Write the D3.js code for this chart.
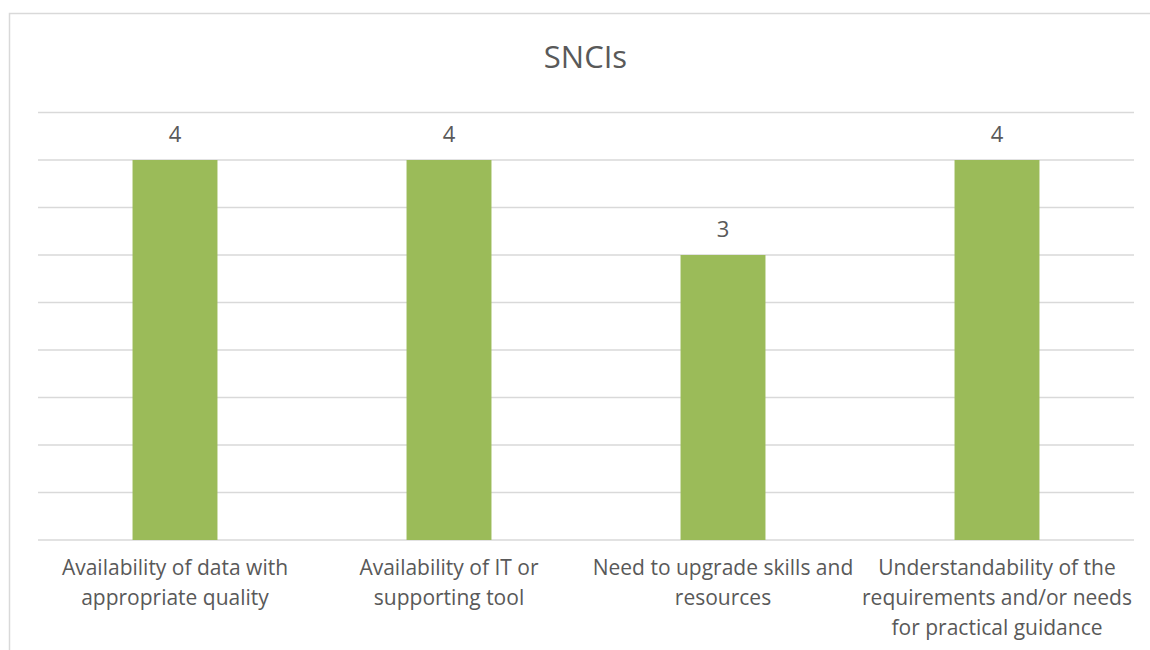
<!DOCTYPE html>
<html>
<head>
<meta charset="utf-8">
<script src="https://cdn.jsdelivr.net/npm/d3@7"></script>
<style>
  html, body { margin: 0; padding: 0; background: #fff; }
  svg { display: block; }
  text { font-family: "Open Sans", "Liberation Sans", sans-serif; fill: #595959; }
</style>
</head>
<body>
<svg id="chart" width="1150" height="650"></svg>
<script>
// Chart data
const title = "SNCIs";
const categories = [
  ["Availability of data with", "appropriate quality"],
  ["Availability of IT or", "supporting tool"],
  ["Need to upgrade skills and", "resources"],
  ["Understandability of the", "requirements and/or needs", "for practical guidance"]
];
const values = [4, 4, 3, 4];
const gridTicks = [0, 0.5, 1, 1.5, 2, 2.5, 3, 3.5, 4, 4.5];

const svg = d3.select("#chart");
const W = 1150, H = 650;
const plot = { left: 38, right: 1134, top: 112.5, bottom: 540 };

// outer chart frame (continues past the right/bottom edges)
svg.append("rect")
  .attr("x", 9.5).attr("y", 13.5)
  .attr("width", W + 20).attr("height", H + 20)
  .attr("fill", "none").attr("stroke", "#d9d9d9").attr("stroke-width", 1.5);

const x = d3.scaleBand()
  .domain(d3.range(categories.length))
  .range([plot.left, plot.right])
  .padding(0);

const y = d3.scaleLinear()
  .domain([0, 4.5])
  .range([plot.bottom, plot.top]);

// horizontal gridlines
svg.append("g")
  .selectAll("line")
  .data(gridTicks)
  .join("line")
  .attr("x1", plot.left).attr("x2", plot.right)
  .attr("y1", d => y(d)).attr("y2", d => y(d))
  .attr("stroke", "#d9d9d9").attr("stroke-width", 1.3);

// bars
const barW = x.bandwidth() * 0.31;
svg.append("g")
  .selectAll("rect")
  .data(values)
  .join("rect")
  .attr("x", (d, i) => x(i) + x.bandwidth() / 2 - barW / 2)
  .attr("y", d => y(d))
  .attr("width", barW)
  .attr("height", d => y(0) - y(d))
  .attr("fill", "#9bbb59");

// value labels
svg.append("g")
  .selectAll("text")
  .data(values)
  .join("text")
  .attr("x", (d, i) => x(i) + x.bandwidth() / 2)
  .attr("y", d => y(d) - 18)
  .attr("text-anchor", "middle")
  .style("font-size", "22px")
  .text(d => d);

// category labels
const cat = svg.append("g")
  .selectAll("text")
  .data(categories)
  .join("text")
  .attr("text-anchor", "middle")
  .style("font-size", "21px");
cat.each(function(lines, i) {
  d3.select(this).selectAll("tspan")
    .data(lines)
    .join("tspan")
    .attr("x", x(i) + x.bandwidth() / 2)
    .attr("y", (l, j) => 575 + j * 30)
    .text(l => l);
});

// title
svg.append("text")
  .attr("x", 585.5).attr("y", 67.5)
  .attr("text-anchor", "middle")
  .style("font-size", "31px")
  .text(title);
</script>
</body>
</html>
